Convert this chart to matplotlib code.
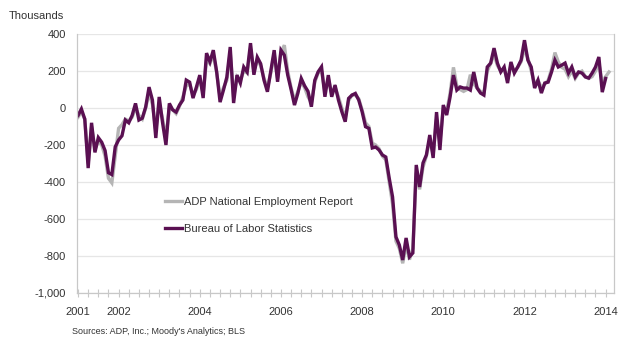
import numpy as np
import matplotlib
matplotlib.use("Agg")
import matplotlib.pyplot as plt
from matplotlib.ticker import FixedLocator, FuncFormatter

plt.rcParams['font.family'] = ['Liberation Sans', 'DejaVu Sans']

# monthly change, thousands, starting Jan 2001
bls = [-40, -5, -60, -325, -80, -240, -160, -185, -230, -350, -360, -210,
       -173, -150, -65, -80, -40, 25, -65, -55, 5, 113, 43, -162,
       60, -80, -200, 25, -10, -22, 16, 43, 151, 140, 54, 113,
       178, 54, 297, 250, 313, 195, 32, 97, 167, 330, 27, 178,
       135, 222, 195, 351, 180, 275, 240, 150, 88, 200, 313, 142,
       313, 286, 178, 100, 16, 80, 160, 120, 90, 7, 150, 196,
       223, 61, 178, 61, 124, 43, -20, -74, 52, 70, 79, 43,
       -20, -101, -110, -216, -211, -227, -254, -265, -378, -481, -697, -741,
       -822, -703, -805, -784, -308, -427, -297, -254, -146, -270, -22, -227,
       16, -38, 59, 178, 97, 114, 108, 108, 97, 195, 108, 81,
       70, 222, 243, 324, 243, 195, 222, 135, 249, 189, 222, 259,
       367, 259, 222, 108, 151, 81, 135, 140, 195, 259, 222, 232,
       243, 189, 222, 168, 195, 189, 168, 162, 189, 222, 276, 86,
       160]

adp = [-50, -20, -60, -300, -100, -220, -180, -200, -260, -380, -405, -260,
       -110, -90, -60, -70, -50, 0, -40, -60, 0, 80, 20, -120,
       30, -60, -160, 0, -10, -30, 10, 60, 120, 130, 70, 100,
       160, 80, 260, 240, 290, 190, 60, 110, 150, 300, 60, 170,
       150, 200, 190, 320, 200, 260, 230, 160, 110, 190, 290, 160,
       300, 340, 200, 110, 40, 90, 140, 110, 60, 30, 140, 190,
       200, 90, 160, 80, 110, 60, 0, -50, 40, 70, 70, 50,
       -10, -80, -100, -190, -200, -220, -260, -280, -400, -520, -720, -760,
       -840, -740, -820, -760, -350, -440, -320, -260, -170, -250, -60, -180,
       0, -20, 80, 220, 120, 100, 90, 100, 180, 130, 110, 90,
       80, 200, 240, 290, 230, 200, 210, 150, 230, 200, 220, 250,
       320, 270, 200, 130, 150, 110, 130, 150, 210, 300, 250, 220,
       210, 170, 200, 160, 190, 200, 170, 160, 170, 200, 240, 140,
       170, 195]

x_bls = 2001 + np.arange(len(bls)) / 12
x_adp = 2001 + np.arange(len(adp)) / 12

year_labels = [2001, 2002, 2004, 2006, 2008, 2010, 2012, 2014]
y_ticks = list(range(-1000, 401, 200))

fig = plt.figure(figsize=(6.4, 3.55), dpi=100)
ax = fig.add_axes([0.120, 0.175, 0.839, 0.729])

ax.plot(x_adp, adp, color='#b5b5b5', lw=2.4, label='ADP National Employment Report',
        solid_joinstyle='miter')
ax.plot(x_bls, bls, color='#5a1052', lw=2.4, label='Bureau of Labor Statistics',
        solid_joinstyle='miter')

ax.set_xlim(2000.97, 2014.2)
ax.set_ylim(-1000, 400)

ax.yaxis.set_major_locator(FixedLocator(y_ticks))
ax.yaxis.set_major_formatter(FuncFormatter(lambda v, p: f'{int(v):,}'))
ax.grid(axis='y', color='#e6e6e6', lw=0.9)
ax.set_axisbelow(True)
ax.tick_params(axis='y', length=0, pad=8, labelsize=8, labelcolor='#333333')

ax.xaxis.set_major_locator(FixedLocator(year_labels))
ax.xaxis.set_major_formatter(FuncFormatter(lambda v, p: f'{int(round(v))}'))
ax.xaxis.set_minor_locator(FixedLocator(np.arange(2001, 2014.01, 0.25)))
ax.tick_params(axis='x', which='both', direction='inout', length=6, width=0.8,
               color='#c8c8c8', pad=7, labelsize=8, labelcolor='#333333')

for s in ['left', 'bottom', 'right']:
    ax.spines[s].set_color('#c8c8c8')
    ax.spines[s].set_linewidth(0.9)
ax.spines['top'].set_visible(False)

ax.legend(loc='upper left', bbox_to_anchor=(0.145, 0.41), frameon=False,
          fontsize=8, handlelength=1.6, handletextpad=0.1, labelspacing=1.55,
          labelcolor='#333333')

fig.text(0.014, 0.955, 'Thousands', fontsize=8, color='#333333', va='center')
fig.text(0.113, 0.066, "Sources: ADP, Inc.; Moody's Analytics; BLS", fontsize=6.5,
         color='#333333', va='center')

fig.savefig('out.png', dpi=100)
